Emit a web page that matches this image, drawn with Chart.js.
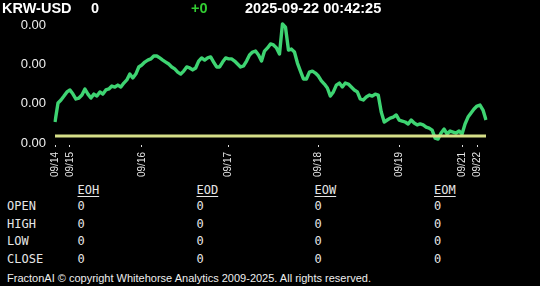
<!DOCTYPE html>
<html>
<head>
<meta charset="utf-8">
<script src="https://cdn.jsdelivr.net/npm/chart.js@4.4.1/dist/chart.umd.min.js"></script>
<style>
  body { margin: 0; background: #000; width: 540px; height: 286px; overflow: hidden; position: relative;
         font-family: "Liberation Sans", Arial, sans-serif; color: #fff; }
  #wrap { position: absolute; left: 0; top: 0; width: 540px; height: 182px; }
  .hd { position: absolute; top: 1px; font-size: 14.5px; font-weight: bold; line-height: 15px; white-space: nowrap; z-index: 2; }
  .tb { position: absolute; font-family: "DejaVu Sans Mono", monospace; font-size: 12px; line-height: 12px;
        color: #e6e6e6; white-space: pre; }
  .tb.head { text-decoration: underline; text-underline-offset: 2px; }
  #copy { position: absolute; left: 7px; top: 273px; font-size: 11px; line-height: 11px; color: #eee; white-space: nowrap; }
</style>
</head>
<body>
<div class="hd" id="sym" style="left:2px"></div>
<div class="hd" id="last" style="left:91px"></div>
<div class="hd" id="chg" style="left:191px;color:#32cd32"></div>
<div class="hd" id="time" style="left:245px"></div>
<div id="wrap"><canvas id="chart"></canvas></div>
<div id="table"></div>
<div id="copy">FractonAI © copyright Whitehorse Analytics 2009-2025. All rights reserved.</div>
<script>
// header
const symbol = "KRW-USD";
const lastPrice = "0";
const change = "+0";
const stamp = "2025-09-22 00:42:25";

// price series, in 1e-6 USD
const krwUsd = [
  717.07, 718.04, 718.19, 718.39, 718.60, 718.70, 718.49, 718.24, 718.29, 718.44,
  718.75, 718.49, 718.29, 718.49, 718.39, 718.60, 718.49, 718.70, 718.75, 718.90,
  718.85, 718.95, 718.85, 719.05, 719.21, 719.51, 719.31, 719.51, 719.87, 719.97,
  720.12, 720.22, 720.28, 720.43, 720.43, 720.33, 720.22, 720.12, 720.02, 719.87,
  719.77, 719.61, 719.51, 719.66, 719.87, 719.82, 719.72, 719.82, 720.17, 720.33,
  720.22, 720.33, 720.38, 720.12, 719.87, 719.87, 720.12, 720.33, 720.28, 720.28,
  720.17, 720.02, 719.87, 719.92, 720.17, 720.48, 720.63, 720.68, 720.48, 720.17,
  720.68, 720.84, 721.04, 720.99, 720.84, 720.53, 722.06, 721.90, 720.73, 720.78,
  720.63, 720.07, 719.66, 719.26, 719.26, 719.61, 719.66, 719.56, 719.41, 719.16,
  719.00, 718.80, 718.39, 718.60, 718.95, 719.05, 718.85, 719.05, 719.00, 718.85,
  718.70, 718.60, 718.24, 718.19, 718.34, 718.44, 718.39, 718.49, 718.44, 717.58,
  717.07, 717.17, 717.27, 717.32, 717.43, 717.17, 717.12, 717.07, 716.97, 717.17,
  717.02, 716.92, 716.97, 716.92, 716.81, 716.76, 716.66, 716.25, 716.20, 716.51,
  716.71, 716.46, 716.61, 716.56, 716.51, 716.61, 716.46, 716.97, 717.32, 717.53,
  717.73, 717.88, 717.93, 717.68, 717.17
];
const baseLevel = 716.36;

// day boundaries (index of first point of each day)
const dayLabels = ["09/14", "09/15", "09/16", "09/17", "09/18", "09/19", "09/21", "09/22"];
const dayStart = [0, 5, 29, 58, 88, 115, 136, 141];

const yTicks = [716, 718, 720, 722];

// summary table
const rowNames = ["OPEN", "HIGH", "LOW", "CLOSE"];
const colNames = ["EOH", "EOD", "EOW", "EOM"];
const tableValues = [
  [0, 0, 0, 0],
  [0, 0, 0, 0],
  [0, 0, 0, 0],
  [0, 0, 0, 0]
];

document.getElementById("sym").textContent = symbol;
document.getElementById("last").textContent = lastPrice;
document.getElementById("chg").textContent = change;
document.getElementById("time").textContent = stamp;

const colX = [77.5, 196.5, 314.5, 434];
const rowY = [200.4, 217.7, 234.9, 253.2];
let html = "";
colNames.forEach((c, j) => {
  html += `<div class="tb head" style="left:${colX[j]}px;top:184px">${c}</div>`;
});
rowNames.forEach((r, i) => {
  html += `<div class="tb" style="left:7px;top:${rowY[i]}px">${r}</div>`;
  tableValues[i].forEach((v, j) => {
    html += `<div class="tb" style="left:${colX[j]}px;top:${rowY[i]}px">${v}</div>`;
  });
});
document.getElementById("table").innerHTML = html;

const labels = krwUsd.map((_, i) => {
  const k = dayStart.indexOf(i);
  return k >= 0 ? dayLabels[k] : "";
});

new Chart(document.getElementById("chart"), {
  type: "line",
  data: {
    labels: labels,
    datasets: [
      {
        data: krwUsd.map(() => baseLevel),
        borderColor: "#d6df88",
        borderWidth: 3,
        pointRadius: 0
      },
      {
        data: krwUsd,
        borderColor: "#3ed472",
        borderWidth: 3.4,
        borderJoinStyle: "round",
        pointRadius: 0,
        tension: 0
      }
    ]
  },
  options: {
    responsive: true,
    maintainAspectRatio: false,
    animation: false,
    layout: { padding: { top: 20, right: 54, left: 0, bottom: 0 } },
    plugins: { legend: { display: false }, tooltip: { enabled: false } },
    scales: {
      x: {
        afterFit: s => { s.height = 37; },
        grid: {
          drawOnChartArea: false,
          tickLength: 2,
          color: c => labels[c.index] ? "#ddd" : "transparent"
        },
        border: { display: false },
        ticks: {
          autoSkip: false,
          minRotation: 90,
          maxRotation: 90,
          padding: 5,
          color: "#e6e6e6",
          font: { family: "Liberation Sans, Arial, sans-serif", size: 10 }
        }
      },
      y: {
        min: 715.90,
        max: 722.26,
        afterFit: s => { s.width = 55; },
        afterBuildTicks: s => { s.ticks = yTicks.map(v => ({ value: v })); },
        grid: { display: false, drawTicks: false },
        border: { display: false },
        ticks: {
          padding: 9,
          color: "#eeeeee",
          font: { family: "Liberation Sans, Arial, sans-serif", size: 13 },
          callback: v => (v * 1e-6).toFixed(2)
        }
      }
    }
  }
});
</script>
</body>
</html>
